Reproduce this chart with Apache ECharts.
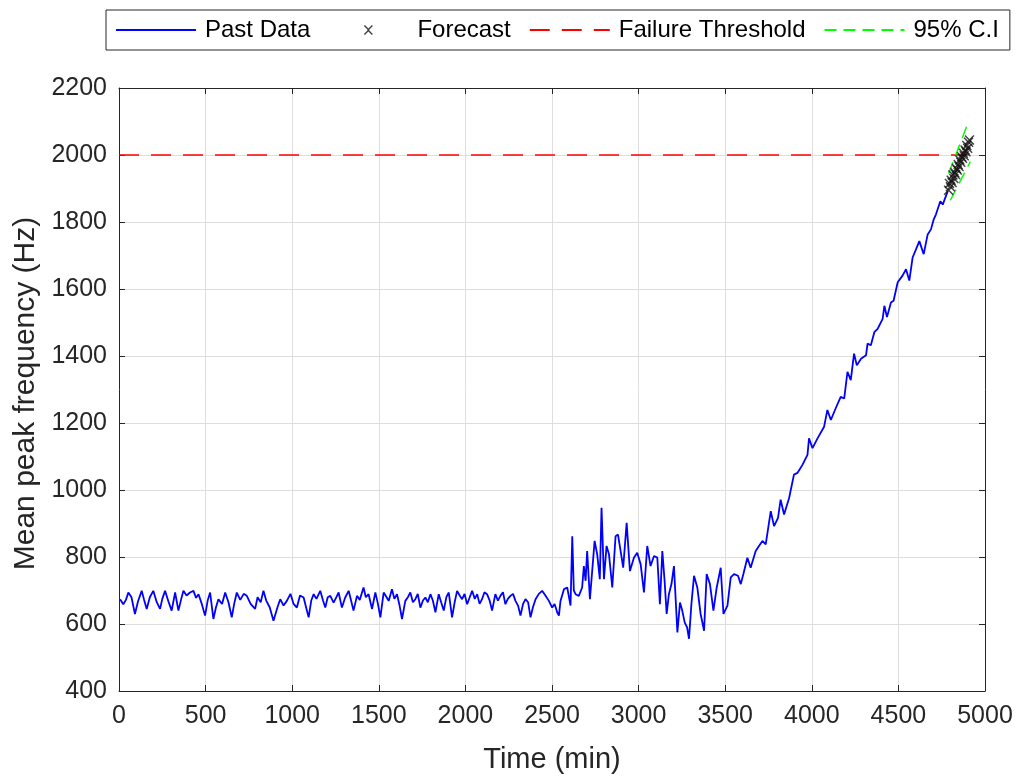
<!DOCTYPE html>
<html>
<head>
<meta charset="utf-8">
<script src="https://cdn.jsdelivr.net/npm/echarts@6/dist/echarts.min.js"></script>
<style>
html,body{margin:0;padding:0;background:#fff;}
#chart{width:1019px;height:779px;}
</style>
</head>
<body>
<div id="chart"></div>
<script>
// ---- data (time in min, mean peak frequency in Hz) ----
const pastData = [
[6,674],[25,659],[40,672],[54,694],[72,680],[92,630],[110,668],[131,699],[145,672],[160,645],
[178,680],[198,699],[218,665],[237,645],[250,675],[266,699],[285,668],[304,640],[324,694],[343,640],
[358,672],[372,699],[390,685],[410,694],[430,699],[445,678],[459,689],[478,660],[497,625],[512,670],
[526,694],[545,615],[560,650],[574,674],[595,660],[613,694],[632,665],[651,620],[665,660],[680,694],
[700,672],[720,690],[738,684],[760,660],[786,645],[800,680],[818,665],[834,699],[850,670],[870,650],
[892,610],[902,605],[915,650],[931,674],[950,655],[969,669],[990,690],[1008,660],[1027,649],[1045,685],
[1066,679],[1080,650],[1095,620],[1110,670],[1124,689],[1140,675],[1162,699],[1178,670],[1191,649],[1205,680],
[1220,684],[1239,664],[1255,680],[1268,694],[1287,649],[1306,679],[1326,699],[1340,670],[1354,640],[1374,684],
[1390,672],[1403,694],[1412,709],[1425,680],[1441,689],[1461,645],[1480,694],[1495,660],[1509,620],[1528,694],
[1545,680],[1557,669],[1576,704],[1590,675],[1605,689],[1620,655],[1634,615],[1653,669],[1668,680],[1682,694],
[1697,665],[1711,674],[1725,690],[1740,649],[1755,670],[1769,679],[1783,665],[1798,689],[1812,670],[1827,635],
[1846,689],[1860,665],[1875,640],[1890,680],[1904,694],[1923,620],[1938,665],[1952,699],[1967,685],[1981,674],
[1995,690],[2010,659],[2025,680],[2039,699],[2054,675],[2068,689],[2082,660],[2096,674],[2110,695],[2125,689],
[2140,670],[2154,640],[2173,689],[2188,670],[2202,684],[2217,695],[2231,659],[2245,675],[2260,684],[2275,690],
[2289,669],[2304,655],[2318,625],[2333,660],[2347,674],[2362,665],[2376,620],[2390,650],[2405,674],[2424,690],
[2443,699],[2462,685],[2482,669],[2501,649],[2515,660],[2530,635],[2540,625],[2549,669],[2569,704],[2588,709],
[2607,655],[2617,862],[2626,700],[2636,689],[2655,684],[2674,709],[2684,773],[2694,729],[2703,818],[2719,674],
[2732,758],[2746,848],[2761,808],[2776,734],[2786,947],[2800,734],[2815,833],[2829,808],[2848,709],[2867,862],
[2881,867],[2896,818],[2911,768],[2931,902],[2950,758],[2973,798],[2992,813],[3012,778],[3031,694],[3050,833],
[3069,773],[3089,803],[3108,798],[3123,659],[3137,818],[3150,729],[3162,630],[3175,689],[3190,720],[3204,773],
[3224,575],[3239,664],[3252,640],[3266,605],[3280,590],[3291,556],[3305,660],[3320,744],[3339,709],[3358,630],
[3378,580],[3393,749],[3412,719],[3432,640],[3451,709],[3474,768],[3490,630],[3513,655],[3532,739],[3551,749],
[3574,744],[3590,719],[3605,749],[3628,798],[3647,768],[3676,818],[3695,833],[3715,848],[3734,838],[3763,937],
[3782,892],[3805,917],[3820,971],[3840,927],[3869,976],[3897,1046],[3917,1051],[3946,1075],[3975,1105],[3984,1154],
[4004,1125],[4033,1154],[4071,1189],[4090,1239],[4110,1209],[4138,1244],[4167,1278],[4187,1273],[4206,1353],[4225,1328],
[4244,1407],[4260,1372],[4284,1392],[4313,1402],[4322,1437],[4341,1432],[4361,1471],[4380,1481],[4409,1511],[4419,1550],
[4434,1516],[4457,1560],[4472,1565],[4496,1620],[4524,1640],[4544,1659],[4563,1625],[4582,1694],[4602,1719],[4621,1743],
[4646,1704],[4669,1763],[4688,1778],[4704,1808],[4717,1823],[4742,1862],[4756,1852],[4785,1892]
];
const forecastT = [4790,4795,4800,4805,4810,4815,4820,4825,4830,4835,4840,4845,4850,4855,4860,4865,4870,4875,4880,4885,4890,4895,4900,4905,4910];
const forecastV = [1895,1915,1905,1925,1918,1940,1930,1948,1942,1960,1955,1972,1966,1985,1978,1995,1990,2005,1998,2015,2010,2028,2020,2038,2045];
const thresholdT = [0, 4905];
const thresholdV = [2000, 2000];
const ciUpperT = [4790, 4905];
const ciUpperV = [1945, 2100];
const ciLowerT = [4800, 4915];
const ciLowerV = [1865, 1980];
const legendNames = ['Past Data', 'Forecast', 'Failure Threshold', '95% C.I'];
const xLabel = 'Time (min)';
const yLabel = 'Mean peak frequency (Hz)';

const zip = (a, b) => a.map((v, i) => [v, b[i]]);
const FONT = '"Liberation Sans", Arial, Helvetica, sans-serif';
const AX = '#262626';
const X_PATH = 'path://M0,1L1,0L5,4L9,0L10,1L6,5L10,9L9,10L5,6L1,10L0,9L4,5Z';
// legend icon: same cross centred in an 80x10 box (degenerate corner points set the box)
const X_LEGEND = 'path://M0,0L0,0Z M80,10L80,10Z M35.5,1L36.5,0L40,3.5L43.5,0L44.5,1L41,4.5L41,5.5L44.5,9L43.5,10L40,6.5L36.5,10L35.5,9L39,5.5L39,4.5Z';

const chart = echarts.init(document.getElementById('chart'), null, {renderer: 'canvas'});
const axisCommon = {
  axisLine: {show: true, onZero: false, lineStyle: {color: AX, width: 1}},
  axisTick: {show: true, inside: true, length: 6, lineStyle: {color: AX}},
};
const plain = v => String(v);
const hideSym = {opacity: 0};
chart.setOption({
  animation: false,
  backgroundColor: '#fff',
  textStyle: {fontFamily: FONT},
  grid: {left: 119, right: 34, top: 88, bottom: 85, containLabel: false},
  legend: {
    data: [
      {name: legendNames[0], itemStyle: hideSym},
      {name: legendNames[1], icon: X_LEGEND},
      {name: legendNames[2], itemStyle: hideSym},
      {name: legendNames[3], itemStyle: hideSym}
    ],
    left: 106, top: 10,
    orient: 'horizontal',
    itemWidth: 80, itemHeight: 10, itemGap: 18,
    padding: [8, 11, 8, 9],
    borderColor: AX, borderWidth: 1, borderRadius: 0,
    backgroundColor: '#fff',
    symbolKeepAspect: true,
    textStyle: {fontSize: 24, color: '#000', fontFamily: FONT, padding: [0, 0, 0, 4]}
  },
  xAxis: [{
    type: 'value', min: 0, max: 5000, interval: 500,
    name: xLabel, nameLocation: 'middle', nameGap: 54,
    nameTextStyle: {fontSize: 29, color: AX, fontFamily: FONT},
    ...axisCommon,
    axisLabel: {fontSize: 25, color: AX, margin: 13, fontFamily: FONT, formatter: plain},
    splitLine: {show: true, lineStyle: {color: '#dedede', width: 1}}
  }, {
    type: 'value', min: 0, max: 5000, interval: 500, position: 'top',
    ...axisCommon, axisLabel: {show: false}, splitLine: {show: false}
  }],
  yAxis: [{
    type: 'value', min: 400, max: 2200, interval: 200,
    name: yLabel, nameLocation: 'middle', nameGap: 77, nameRotate: 90,
    nameTextStyle: {fontSize: 30, color: AX, fontFamily: FONT, padding: [0, 8, 0, 0]},
    ...axisCommon,
    axisLabel: {fontSize: 25, color: AX, margin: 12, fontFamily: FONT, formatter: plain},
    splitLine: {show: true, lineStyle: {color: '#dedede', width: 1}}
  }, {
    type: 'value', min: 400, max: 2200, interval: 200, position: 'right',
    ...axisCommon, axisLabel: {show: false}, splitLine: {show: false}
  }],
  series: [{
    name: 'Past Data', type: 'line', data: pastData,
    symbol: 'none', lineStyle: {color: '#0000ff', width: 1.8}, itemStyle: {color: '#0000ff'}, z: 3
  }, {
    name: 'Forecast', type: 'scatter', data: zip(forecastT, forecastV),
    symbol: X_PATH, symbolSize: 10, itemStyle: {color: '#111'}, z: 5
  }, {
    name: 'Failure Threshold', type: 'line', data: zip(thresholdT, thresholdV),
    symbol: 'none', lineStyle: {color: '#ff0000', width: 1.5, type: [20, 12]}, itemStyle: {color: '#ff0000'}, z: 4
  }, {
    name: '95% C.I', type: 'line', data: zip(ciUpperT, ciUpperV),
    symbol: 'none', lineStyle: {color: '#00ff00', width: 1.5, type: [12, 7]}, itemStyle: {color: '#00ff00'}, z: 4
  }, {
    name: '95% C.I', type: 'line', data: zip(ciLowerT, ciLowerV),
    symbol: 'none', lineStyle: {color: '#00ff00', width: 1.5, type: [12, 7]}, itemStyle: {color: '#00ff00'}, z: 4
  }]
});
</script>
</body>
</html>
